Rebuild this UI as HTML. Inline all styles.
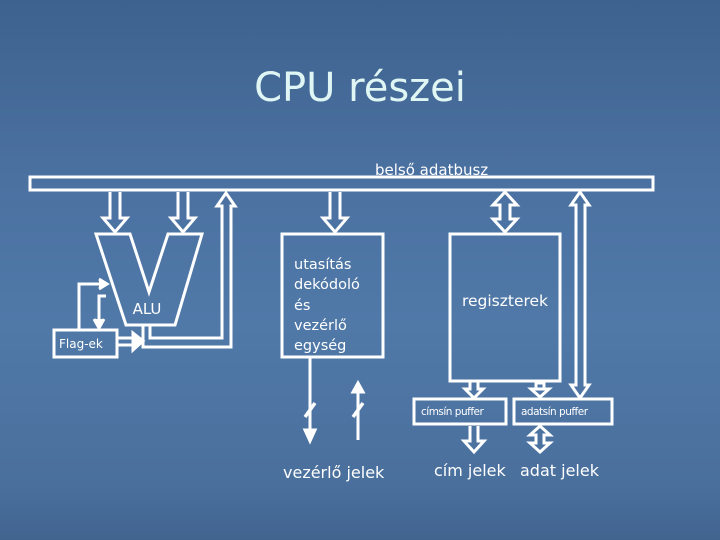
<!DOCTYPE html>
<html><head><meta charset="utf-8"><style>
html,body{margin:0;padding:0}
body{width:720px;height:540px;overflow:hidden;background:linear-gradient(180deg,#3e628e 0%,#4a70a0 30%,#5079a8 60%,#4a6f9c 90%,#41648f 100%);font-family:"Liberation Sans","DejaVu Sans",sans-serif}
svg{position:absolute;left:0;top:0}
</style></head><body>
<svg width="720" height="540" viewBox="0 0 720 540" xmlns="http://www.w3.org/2000/svg">
<text x="360" y="101" text-anchor="middle" font-family="DejaVu Sans, sans-serif" font-size="40" fill="#dff6f4">CPU részei</text>
<text x="375" y="175" font-family="DejaVu Sans, sans-serif" font-size="15" fill="#fff" text-decoration="underline">belső adatbusz</text>
<g fill="none" stroke="#fff" stroke-width="3">
<rect x="30" y="177" width="623" height="13"/>
<path d="M110,192 V218 H103 L115,232 L127,218 H120 V192"/>
<path d="M178,192 V218 H171 L183,232 L195,218 H188 V192"/>
<path d="M330,192 V218 H323 L335,232 L347,218 H340 V192"/>
<path d="M150,325 V338 H222 V206 H217 L226,193 L235,206 H231 V347 H143 V325"/>
<polygon points="96,234 130,234 149,292 168,234 202,234 175,325 126,325"/>
<rect x="54" y="330" width="63" height="27"/>
<path d="M79,330 V284 H104" /><path d="M99,279 L107,284 L99,289" fill="#fff"/>
<path d="M106,296 H99 V322"/><path d="M94,319 L99,328 L104,319" fill="#fff"/>
<path d="M117,338 H136 M117,345 H136"/><path d="M133,333 L143,341 L133,350 Z" fill="#fff"/>
<rect x="282" y="234" width="101" height="123"/>
<path d="M310,358 V432"/><path d="M305,430 L310,441 L315,430 Z" fill="#fff"/>
<path d="M358,440 V388"/><path d="M353,392 L358,383 L363,392 Z" fill="#fff"/>
<path d="M305,417 L315,403 M353,417 L363,403" stroke-width="3.5"/>
<rect x="450" y="234" width="110" height="147"/>
<path d="M500,205 V219 H493 L505,232 L517,219 H510 V205 L517,205 L505,192 L493,205 Z"/>
<path d="M576,205 V385 H571 L580,398 L589,385 H585 V205 H589 L580,192 L571,205 Z"/>
<rect x="414" y="399" width="92" height="25"/>
<rect x="514" y="399" width="98" height="25"/>
<path d="M470,382 V389 H465 L474,398 L483,389 H478 V382"/>
<path d="M536,383 V389 H531 L540,397 L549,389 H544 V383 Z"/>
<path d="M531,389 H549"/>
<path d="M470,426 V441 H464 L474,452 L484,441 H478 V426"/>
<path d="M536,435 V443 H530 L540,452 L550,443 H544 V435 H550 L540,426 L530,435 Z"/>
</g>
<g fill="#fff" font-family="DejaVu Sans, sans-serif">
<text x="147" y="314" font-size="15" text-anchor="middle">ALU</text>
<text x="59" y="348" font-size="12">Flag-ek</text>
<text x="294" y="269" font-size="14.5">utasítás</text>
<text x="294" y="289" font-size="14.5">dekódoló</text>
<text x="294" y="310" font-size="14.5">és</text>
<text x="294" y="330" font-size="14.5">vezérlő</text>
<text x="294" y="350" font-size="14.5">egység</text>
<text x="505" y="306" font-size="15.5" text-anchor="middle">regiszterek</text>
<text x="421" y="415" font-size="10.5" letter-spacing="-0.5">címsín puffer</text>
<text x="521" y="415" font-size="10.5" letter-spacing="-0.5">adatsín puffer</text>
<text x="283" y="478" font-size="16">vezérlő jelek</text>
<text x="434" y="476" font-size="16">cím jelek</text>
<text x="520" y="476" font-size="16">adat jelek</text>
</g>
</svg>
</body></html>
